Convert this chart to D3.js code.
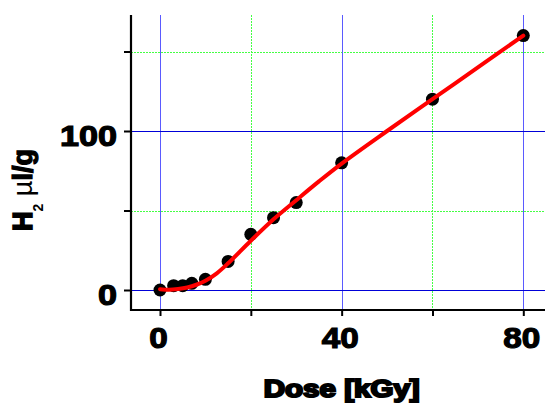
<!DOCTYPE html>
<html>
<head>
<meta charset="utf-8">
<script src="https://cdn.jsdelivr.net/npm/d3@7"></script>
<style>
  html, body { margin: 0; padding: 0; background: #fff; }
  svg { display: block; }
  text { font-family: "Liberation Sans", Arial, sans-serif; fill: #000; }
</style>
</head>
<body>
<svg id="chart" width="545" height="403"></svg>
<script>
// ---- data ----
const doseKGy = [0, 3, 5, 7, 10, 15, 20, 25, 30, 40, 60, 80];
const h2Values = [0, 2.7, 2.7, 4.2, 6.7, 18, 35, 45.5, 55, 80, 120, 160];
const fitDose = [0, 2, 4, 6, 8, 10, 12.5, 15, 20, 25, 30, 35, 40, 50, 60, 70, 80];
const fitH2 = [0.5, 0.1, 0.6, 1.6, 3.3, 5.8, 10.5, 16.8, 31, 44.5, 56.5, 68.3, 79.5, 100, 120, 140, 160];
const xTickValues = [0, 20, 40, 60, 80];
const xTickLabels = ["0", "", "40", "", "80"];
const yTickValues = [0, 50, 100, 150];
const yTickLabels = ["0", "", "100", ""];
const xMajorGrid = [0, 40, 80];
const xMinorGrid = [20, 60];
const yMajorGrid = [0, 100];
const yMinorGrid = [50, 150];

const svg = d3.select("#chart");
const x = d3.scaleLinear().domain([0, 80]).range([160, 523.3]);
const y = d3.scaleLinear().domain([0, 100]).range([290, 131]);

const pLeft = 131, pRight = 545, pTop = 15, pBottom = 310;

// ---- grid ----
const grid = svg.append("g").attr("shape-rendering", "crispEdges");
grid.selectAll(".gxm").data(xMinorGrid).enter().append("line")
  .attr("x1", d => Math.round(x(d)) + 0.5).attr("x2", d => Math.round(x(d)) + 0.5)
  .attr("y1", pTop).attr("y2", pBottom)
  .attr("stroke", "#44ff44").attr("stroke-width", 1).attr("stroke-dasharray", "2,1");
grid.selectAll(".gym").data(yMinorGrid).enter().append("line")
  .attr("y1", d => Math.round(y(d)) + 0.5).attr("y2", d => Math.round(y(d)) + 0.5)
  .attr("x1", pLeft).attr("x2", pRight)
  .attr("stroke", "#44ff44").attr("stroke-width", 1).attr("stroke-dasharray", "2,1");
grid.selectAll(".gxM").data(xMajorGrid).enter().append("line")
  .attr("x1", d => Math.round(x(d)) + 0.5).attr("x2", d => Math.round(x(d)) + 0.5)
  .attr("y1", pTop).attr("y2", pBottom)
  .attr("stroke", "#5a5aff").attr("stroke-width", 1);
grid.selectAll(".gyM").data(yMajorGrid).enter().append("line")
  .attr("y1", d => Math.round(y(d)) + 0.5).attr("y2", d => Math.round(y(d)) + 0.5)
  .attr("x1", pLeft).attr("x2", pRight)
  .attr("stroke", "#0000d8").attr("stroke-width", 1);

// ---- axes ----
const yAxis = d3.axisLeft(y).tickValues(yTickValues).tickSize(7).tickPadding(7)
  .tickFormat((d, i) => yTickLabels[i]);
const gy = svg.append("g").attr("transform", `translate(${pLeft},0)`).call(yAxis);
gy.select(".domain").remove();
gy.selectAll(".tick line").attr("stroke", "#000").attr("stroke-width", 2);
gy.selectAll(".tick text")
  .attr("font-size", 30).attr("font-weight", "bold")
  .attr("font-family", "Liberation Sans, Arial, sans-serif")
  .attr("fill", "#000").attr("stroke", "#000").attr("stroke-width", 1.2)
  .attr("dy", "14px")
  .each(function(d, i) {
    const t = yTickLabels[i];
    if (t.length) d3.select(this).attr("textLength", t.length * 19).attr("lengthAdjust", "spacingAndGlyphs");
  });

const xAxis = d3.axisBottom(x).tickValues(xTickValues).tickSize(6)
  .tickFormat((d, i) => xTickLabels[i]);
const gx = svg.append("g").attr("transform", `translate(0,${pBottom})`).call(xAxis);
gx.select(".domain").remove();
gx.selectAll(".tick line").attr("stroke", "#000").attr("stroke-width", 2);
gx.selectAll(".tick text")
  .attr("font-size", 30).attr("font-weight", "bold")
  .attr("font-family", "Liberation Sans, Arial, sans-serif")
  .attr("fill", "#000").attr("stroke", "#000").attr("stroke-width", 1.2)
  .attr("y", 38).attr("dy", 0).attr("dx", -2)
  .each(function(d, i) {
    const t = xTickLabels[i];
    if (t.length) d3.select(this).attr("textLength", t.length * 18.5).attr("lengthAdjust", "spacingAndGlyphs");
  });

// axis lines
svg.append("line").attr("x1", pLeft).attr("x2", pLeft).attr("y1", pTop).attr("y2", pBottom + 1)
  .attr("stroke", "#000").attr("stroke-width", 2.2);
svg.append("line").attr("x1", pLeft - 1).attr("x2", pRight).attr("y1", pBottom).attr("y2", pBottom)
  .attr("stroke", "#000").attr("stroke-width", 2.2);

// ---- points ----
svg.append("g").selectAll("circle").data(doseKGy).enter().append("circle")
  .attr("cx", d => x(d)).attr("cy", (d, i) => y(h2Values[i]))
  .attr("r", 6.5).attr("fill", "#000");

// ---- fit line ----
const line = d3.line().x(d => x(d[0])).y(d => y(d[1])).curve(d3.curveCatmullRom.alpha(0.5));
svg.append("path").datum(fitDose.map((d, i) => [d, fitH2[i]]))
  .attr("d", line).attr("fill", "none").attr("stroke", "#ff0000")
  .attr("stroke-width", 4).attr("stroke-linecap", "round");

// ---- titles ----
svg.append("text").attr("x", 341.7).attr("y", 397)
  .attr("text-anchor", "middle").attr("font-size", 23).attr("font-weight", "bold")
  .attr("stroke", "#000").attr("stroke-width", 2)
  .attr("textLength", 156).attr("lengthAdjust", "spacingAndGlyphs")
  .text("Dose [kGy]");

const yt = svg.append("text").attr("transform", "translate(32,190) rotate(-90)")
  .attr("text-anchor", "middle").attr("font-size", 27).attr("font-weight", "bold");
yt.append("tspan").attr("stroke", "#000").attr("stroke-width", 1.6).text("H");
yt.append("tspan").attr("font-size", 14).attr("dy", 11).text("2");
yt.append("tspan").attr("dy", -11).text(" ");
yt.append("tspan").attr("font-weight", "normal").text("µ");
yt.append("tspan").attr("stroke", "#000").attr("stroke-width", 1.2).text("l/g");
</script>
</body>
</html>
